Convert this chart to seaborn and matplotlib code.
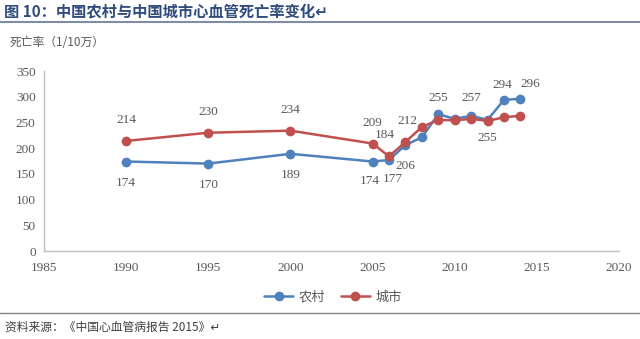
import matplotlib
matplotlib.use("Agg")
import matplotlib.pyplot as plt
import seaborn as sns
import pandas as pd

years = [1990, 1995, 2000, 2005, 2006, 2007, 2008, 2009, 2010, 2011, 2012, 2013, 2014]
rural = [174, 170, 189, 174, 177, 206, 221, 266, 257, 263, 255, 294, 296]
urban = [214, 230, 234, 209, 184, 212, 241, 255, 254, 257, 253, 260, 263]
series_names = ["农村", "城市"]
x_ticks = [1985, 1990, 1995, 2000, 2005, 2010, 2015, 2020]
y_ticks = [0, 50, 100, 150, 200, 250, 300, 350]

# labelled points: (series, year, dx px, dy px)
labels = [
    ("城市", 1990, 0, 21), ("城市", 1995, 0, 21), ("城市", 2000, 0, 21),
    ("城市", 2005, 0, 21), ("城市", 2006, -4, 21), ("城市", 2007, 2, 21),
    ("城市", 2009, 0, 22), ("城市", 2011, 0, 21),
    ("农村", 1990, 0, -21), ("农村", 1995, 0, -21), ("农村", 2000, 0, -21),
    ("农村", 2005, -3, -19), ("农村", 2006, 4, -19), ("农村", 2007, 0, -21),
    ("农村", 2012, 0, -18), ("农村", 2013, -2, 15), ("农村", 2014, 10, 15),
]

df = pd.DataFrame({
    "year": years * 2,
    "value": rural + urban,
    "series": [series_names[0]] * len(years) + [series_names[1]] * len(years),
})

sns.set_style("white")
plt.rcParams["font.family"] = ["Noto Sans CJK SC", "DejaVu Sans"]

colors = {"农村": "#4F81BD", "城市": "#C0504D"}
fig = plt.figure(figsize=(6.4, 3.39), dpi=100)
ax = fig.add_axes([44 / 640, 1 - 251 / 339, 575 / 640, 180 / 339])

sns.lineplot(data=df, x="year", y="value", hue="series", palette=colors,
             marker="o", markersize=7, markeredgewidth=0, linewidth=1.8,
             ax=ax, legend=False)

ax.set_xlim(1985, 2020)
ax.set_ylim(0, 350)
ax.set_xticks(x_ticks)
ax.set_yticks(y_ticks)
numfont = dict(family="Liberation Serif", size=9.5, color="#595959")
ax.set_xticklabels([str(t) for t in x_ticks], **numfont)
ax.set_yticklabels([str(t) for t in y_ticks], **numfont)
ax.tick_params(axis="x", length=0, pad=8)
ax.tick_params(axis="y", length=0, pad=6)
ax.set_xlabel("")
ax.set_ylabel("")
for s in ["top", "right"]:
    ax.spines[s].set_visible(False)
for s in ["left", "bottom"]:
    ax.spines[s].set_color("#BFBFBF")
    ax.spines[s].set_linewidth(1.0)

vals = {"农村": dict(zip(years, rural)), "城市": dict(zip(years, urban))}
for ser, yr, dx, dy in labels:
    v = vals[ser][yr]
    ax.annotate(str(v), (yr, v), xytext=(dx * 0.72, dy * 0.72),
                textcoords="offset points", ha="center", va="center",
                **numfont)

# legend
from matplotlib.lines import Line2D
handles = [Line2D([], [], color=colors[n], marker="o", markersize=7,
                  markeredgewidth=0, linewidth=1.8) for n in series_names]
fig.legend(handles, series_names, loc="center", bbox_to_anchor=(0.52, 1 - 297 / 339),
           ncol=2, frameon=False, handlelength=2.2,
           columnspacing=1.2, handletextpad=0.4,
           prop={"family": ["Noto Sans CJK SC", "DejaVu Sans"], "size": 9.5})
for t in fig.legends[0].get_texts():
    t.set_color("#595959")

# title
fig.text(0.006, 1 - 11 / 339, "图 10：中国农村与中国城市心血管死亡率变化↵",
         ha="left", va="center", fontsize=11, fontweight="bold", color="#2F4B7C",
         family=["Noto Sans CJK SC", "DejaVu Sans"])
fig.add_artist(Line2D([0, 1], [1 - 22 / 339, 1 - 22 / 339], transform=fig.transFigure,
                      color="#7F8CA3", linewidth=1.5))
fig.text(10 / 640, 1 - 43 / 339, "死亡率（1/10万）", ha="left", va="center",
         fontsize=8.5, color="#595959", family=["Noto Sans CJK SC", "DejaVu Sans"])

# footer
fig.add_artist(Line2D([0, 1], [1 - 313 / 339, 1 - 313 / 339], transform=fig.transFigure,
                      color="#808080", linewidth=1.0))
fig.text(5 / 640, 1 - 327 / 339, "资料来源：《中国心血管病报告 2015》↵", ha="left",
         va="center", fontsize=8.5, color="#404040", style="italic",
         family=["Noto Sans CJK SC", "DejaVu Sans"])

fig.savefig("out.png", dpi=100)
